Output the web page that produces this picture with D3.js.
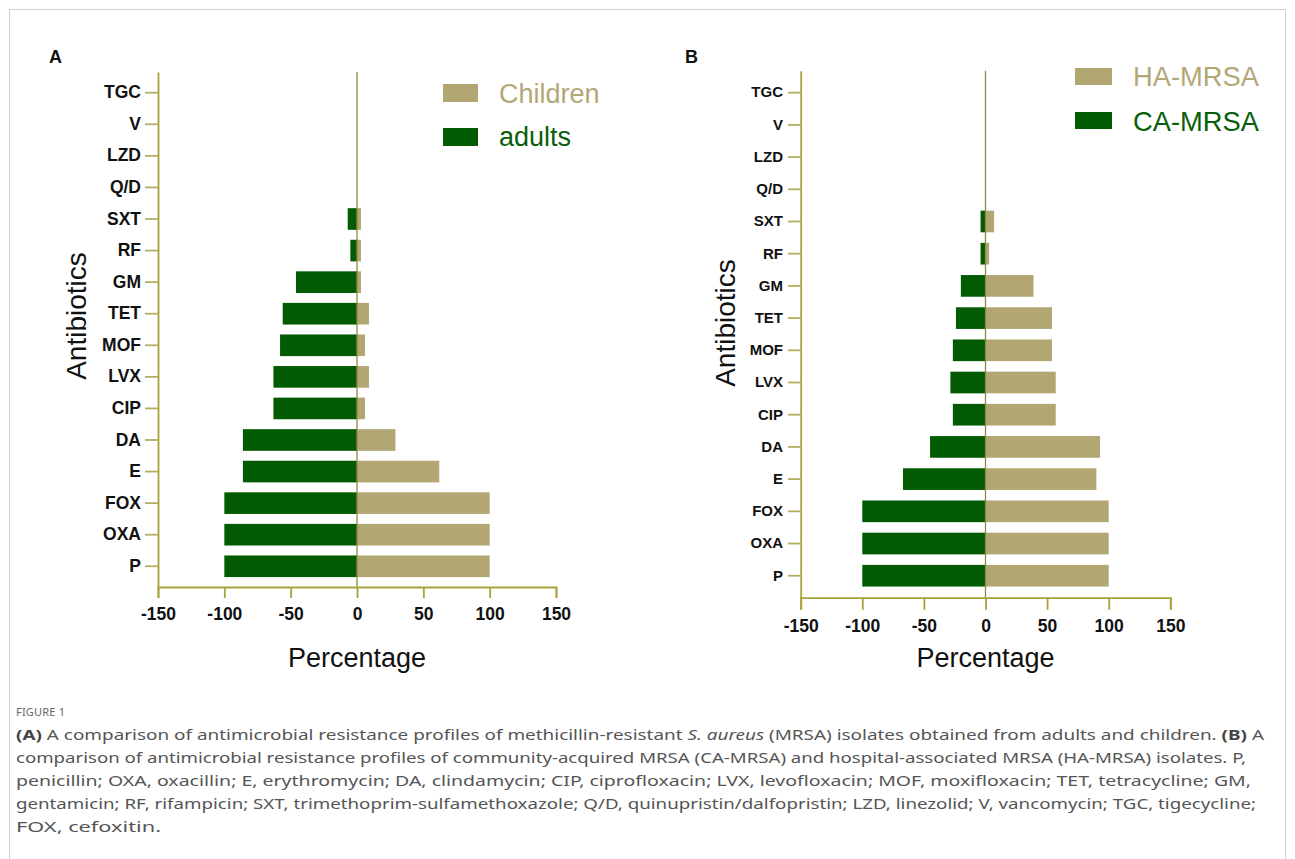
<!DOCTYPE html>
<html>
<head>
<meta charset="utf-8">
<script src="https://cdn.jsdelivr.net/npm/d3@7"></script>
<style>
  html, body { margin: 0; padding: 0; background: #fff; }
  svg { display: block; }
</style>
</head>
<body>
<svg id="chart" width="1295" height="859"></svg>
<script>
// ---------- DATA ----------
const categories = ["P","OXA","FOX","E","DA","CIP","LVX","MOF","TET","GM","RF","SXT","Q/D","LZD","V","TGC"];
// Panel A (% resistant)
const childrenA = [100,100,100,62,29,6,9,6,9,3,3,3,0,0,0,0];
const adultsA   = [100,100,100,86,86,63,63,58,56,46,5,7,0,0,0,0];
// Panel B (% resistant)
const haMRSA = [100,100,100,90,93,57,57,54,54,39,3,7,0,0,0,0];
const caMRSA = [100,100,100,67,45,26.5,28.5,26.5,24,20,4,4,0,0,0,0];
const xTicks = [-150,-100,-50,0,50,100,150];
const legendA = ["Children","adults"];
const legendB = ["HA-MRSA","CA-MRSA"];

const TAN = "#b2a672";
const GREEN = "#025b02";
const AXIS = "#a8a23a";
const TICK = "#b3ae62";
const ZERO = "#8c8a40";
const FONT = "'Liberation Sans', Arial, Helvetica, sans-serif";

const svg = d3.select("#chart");
svg.append("rect").attr("x",0).attr("y",0).attr("width",1295).attr("height",859).attr("fill","#fff");
svg.append("rect").attr("x",9.5).attr("y",9.5).attr("width",1276).attr("height",900)
  .attr("fill","none").attr("stroke","#cfcfcf").attr("stroke-width",1);

function drawPanel(o) {
  const g = svg.append("g");
  const x = d3.scaleLinear().domain([-150,150]).range([o.x0, o.x1]);
  const y = d3.scaleBand().domain(categories.slice().reverse())
    .range([o.y0, o.y1]).paddingInner(o.pi).paddingOuter(o.po);

  // bars: negative side
  g.selectAll(".neg").data(categories).join("rect")
    .attr("x", (d,i) => x(-o.neg[i]))
    .attr("y", d => y(d))
    .attr("width", (d,i) => x(0) - x(-o.neg[i]))
    .attr("height", y.bandwidth())
    .attr("fill", GREEN);
  // bars: positive side
  g.selectAll(".pos").data(categories).join("rect")
    .attr("x", x(0))
    .attr("y", d => y(d))
    .attr("width", (d,i) => x(o.pos[i]) - x(0))
    .attr("height", y.bandwidth())
    .attr("fill", TAN);

  // zero line
  g.append("line").attr("x1", x(0)).attr("x2", x(0))
    .attr("y1", o.y0).attr("y2", o.y1)
    .attr("stroke", ZERO).attr("stroke-width", 1.3);

  // y axis
  const ya = g.append("g").attr("transform", `translate(${o.x0},0)`)
    .call(d3.axisLeft(y).tickSize(o.ytick).tickSizeOuter(0).tickPadding(o.ypad));
  ya.select(".domain").attr("stroke", AXIS).attr("stroke-width", 1.8);
  ya.selectAll(".tick line").attr("stroke", TICK).attr("stroke-width", 1.8);
  ya.selectAll(".tick text").attr("font-family", FONT).attr("font-weight", "bold")
    .attr("font-size", o.yfont).attr("fill", "#111");

  // x axis
  const xa = g.append("g").attr("transform", `translate(0,${o.y1})`)
    .call(d3.axisBottom(x).tickValues(xTicks).tickFormat(d => String(d))
      .tickSize(o.xtick).tickSizeOuter(o.xtick).tickPadding(o.xpad));
  xa.select(".domain").attr("stroke", AXIS).attr("stroke-width", 1.8);
  xa.selectAll(".tick line").attr("stroke", AXIS).attr("stroke-width", 1.8);
  xa.selectAll(".tick text").attr("font-family", FONT).attr("font-weight", "bold")
    .attr("font-size", 17.5).attr("fill", "#111");

  // axis titles
  g.append("text").attr("x", x(0)).attr("y", 667).attr("text-anchor", "middle")
    .attr("font-family", FONT).attr("font-size", 27).attr("fill", "#111").text("Percentage");
  g.append("text").attr("transform", `translate(${o.ytx},${o.yty}) rotate(-90)`)
    .attr("text-anchor", "middle").attr("font-family", FONT).attr("font-size", 28)
    .attr("fill", "#111").text("Antibiotics");

  // panel letter
  g.append("text").attr("x", o.lx).attr("y", 63).attr("font-family", FONT)
    .attr("font-weight", "bold").attr("font-size", 18).attr("fill", "#111").text(o.letter);

  // legend
  const cols = [TAN, GREEN];
  o.legend.forEach((lab, i) => {
    g.append("rect").attr("x", o.legX).attr("y", o.legY[i]).attr("width", o.legW).attr("height", o.legH)
      .attr("fill", cols[i]);
    g.append("text").attr("x", o.legTX).attr("y", o.legBase[i]).attr("font-family", FONT)
      .attr("font-size", o.legFont).attr("fill", i === 0 ? "#b3a776" : "#0a5e0a").text(lab);
  });
}

drawPanel({
  x0: 158, x1: 556, y0: 72, y1: 587, pi: 0.315, po: 0.314,
  pos: childrenA, neg: adultsA,
  ytick: 13, ypad: 4, yfont: 17.5, xtick: 11, xpad: 10,
  ytx: 86, yty: 316, lx: 49, letter: "A",
  legend: legendA, legX: 443, legY: [84, 128], legW: 35, legH: 18,
  legTX: 499, legBase: [103, 146], legFont: 27
});

drawPanel({
  x0: 800.7, x1: 1170.3, y0: 70.7, y1: 597.7, pi: 0.327, po: 0.346,
  pos: haMRSA, neg: caMRSA,
  ytick: 12.7, ypad: 5, yfont: 15, xtick: 12, xpad: 10,
  ytx: 735, yty: 323, lx: 685, letter: "B",
  legend: legendB, legX: 1075, legY: [68, 112], legW: 37, legH: 17,
  legTX: 1133, legBase: [86, 131], legFont: 27.3
});

// ---------- CAPTION ----------
const CFONT = "'Noto Sans', 'Open Sans', sans-serif";
svg.append("text").attr("x", 16).attr("y", 716).attr("font-family", CFONT)
  .attr("font-size", 11).attr("fill", "#666").attr("letter-spacing", 0.2).text("FIGURE 1");

const captionLines = [
  [["(A)","b"],[" A comparison of antimicrobial resistance profiles of methicillin-resistant ",""],["S. aureus","i"],[" (MRSA) isolates obtained from adults and children. ",""],["(B)","b"],[" A",""]],
  [["comparison of antimicrobial resistance profiles of community-acquired MRSA (CA-MRSA) and hospital-associated MRSA (HA-MRSA) isolates. P,",""]],
  [["penicillin; OXA, oxacillin; E, erythromycin; DA, clindamycin; CIP, ciprofloxacin; LVX, levofloxacin; MOF, moxifloxacin; TET, tetracycline; GM,",""]],
  [["gentamicin; RF, rifampicin; SXT, trimethoprim-sulfamethoxazole; Q/D, quinupristin/dalfopristin; LZD, linezolid; V, vancomycin; TGC, tigecycline;",""]],
  [["FOX, cefoxitin.",""]]
];
const captionWidths = [1248, 1230, 1235, 1240, 145];
captionLines.forEach((parts, li) => {
  const t = svg.append("text").attr("x", 16).attr("y", 740 + li * 23)
    .attr("font-family", CFONT).attr("font-size", 14.5).attr("fill", "#555")
    .attr("textLength", captionWidths[li]).attr("lengthAdjust", "spacingAndGlyphs");
  parts.forEach(([s, st]) => {
    const sp = t.append("tspan").text(s);
    if (st === "b") sp.attr("font-weight", "bold").attr("fill", "#444");
    if (st === "i") sp.attr("font-style", "italic");
  });
});
</script>
</body>
</html>
